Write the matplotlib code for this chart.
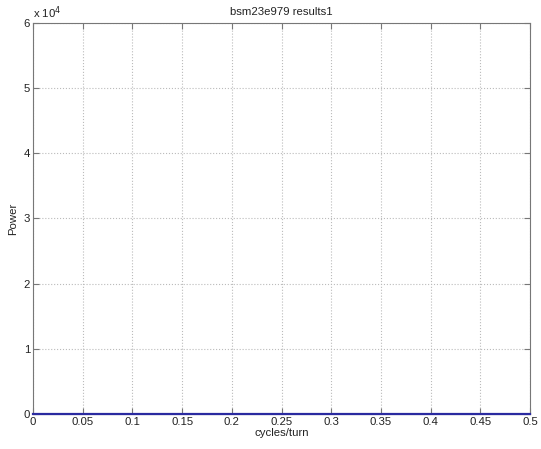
import matplotlib
matplotlib.use("Agg")
import matplotlib.pyplot as plt
import numpy as np

plt.rcParams['font.family'] = ['Liberation Sans', 'DejaVu Sans']

# Spectrum: frequency (cycles/turn) and power
freq = [0.0, 0.05, 0.1, 0.15, 0.2, 0.25, 0.3, 0.35, 0.4, 0.45, 0.5]
power = [0, 0, 0, 0, 0, 0, 0, 0, 0, 0, 0]

xticks = [0, 0.05, 0.1, 0.15, 0.2, 0.25, 0.3, 0.35, 0.4, 0.45, 0.5]
xticklabels = ['0', '0.05', '0.1', '0.15', '0.2', '0.25', '0.3', '0.35', '0.4', '0.45', '0.5']
yticks = [0, 1e4, 2e4, 3e4, 4e4, 5e4, 6e4]
yticklabels = ['0', '1', '2', '3', '4', '5', '6']

fs = 8.2
fig = plt.figure(figsize=(5.41, 4.49), dpi=100)
ax = fig.add_axes([0.061, 0.078, 0.919, 0.871])
ax.plot(freq, power, color='#2a2aa0', linewidth=1.6, zorder=5, clip_on=False)

ax.set_xlim(0, 0.5)
ax.set_ylim(0, 6e4)
ax.set_xticks(xticks)
ax.set_xticklabels(xticklabels)
ax.set_yticks(yticks)
ax.set_yticklabels(yticklabels)
ax.tick_params(direction='in', top=True, right=True, labelsize=fs, length=4,
               color='#777777', labelcolor='#222222', pad=2)
ax.grid(True, linestyle=':', color='#bbbbbb', linewidth=0.8)
for s in ax.spines.values():
    s.set_color('#777777')
    s.set_linewidth(0.8)

ax.set_title('bsm23e979 results1', fontsize=fs, color='#222222', pad=6)
ax.set_xlabel('cycles/turn', fontsize=fs, color='#222222', labelpad=1)
ax.set_ylabel('Power', fontsize=fs, color='#222222', labelpad=4)
ax.text(0.0, 1.005, r'x 10$^4$', transform=ax.transAxes, fontsize=fs,
        color='#222222', ha='left', va='bottom')

fig.savefig('out.png', dpi=100)
